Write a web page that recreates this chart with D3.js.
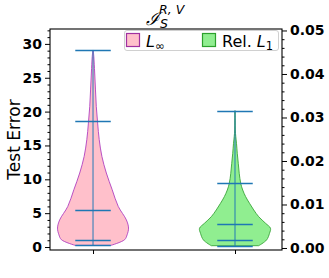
<!DOCTYPE html>
<html><head><meta charset="utf-8">
<script src="https://cdn.jsdelivr.net/npm/d3@7"></script>
<style>html,body{margin:0;padding:0;background:#fff;}svg{display:block;font-family:"DejaVu Sans",sans-serif;}</style>
</head><body><svg id="c" width="329" height="278"></svg>
<script>
const categories = ["L∞", "Rel. L1"];
const positions = [1, 2];
// Violin 1 (left axis): value grid and relative density
const v1Values = [0.24, 1.08, 1.8, 2.8, 4.0, 6.0, 8.46, 10.93, 13.38, 15.85, 18.3, 20.77, 23.2, 25.7, 28.15, 29.04];
const v1Density = [0.5, 0.89, 0.96, 1.0, 0.94, 0.71, 0.54, 0.375, 0.25, 0.175, 0.13, 0.092, 0.069, 0.047, 0.022, 0.006];
const v1Stats = [0.24, 1.03, 5.41, 18.66, 29.04];
// Violin 2 (right axis)
const v2Values = [0.00053, 0.00184, 0.00338, 0.00453, 0.00568, 0.0072, 0.00874, 0.01028, 0.0118, 0.01333, 0.01487, 0.01717, 0.01947, 0.02177, 0.02407, 0.02559, 0.02713, 0.0294, 0.03156];
const v2Density = [0.667, 0.889, 0.972, 1.0, 0.861, 0.667, 0.528, 0.408, 0.3, 0.217, 0.161, 0.119, 0.092, 0.064, 0.042, 0.022, 0.008, 0.003, 0.0014];
const v2Stats = [0.00053, 0.00184, 0.00544, 0.01494, 0.03156];
const leftTicks = [0, 5, 10, 15, 20, 25, 30];
const rightTicks = [0, 0.01, 0.02, 0.03, 0.04, 0.05];

const svg = d3.select("#c");
const L = 50, R = 282, T = 29, B = 250;
const x = d3.scaleLinear().domain([0.697, 2.331]).range([L, R]);
const yL = d3.scaleLinear().domain([-0.44, 32.2]).range([B, T]);
const yR = d3.scaleLinear().domain([-0.00046, 0.05034]).range([B, T]);
const halfW = 0.25;

function violin(pos, vals, dens, stats, ys, fill, edge) {
  const pts = vals.map((v, i) => ({v, d: dens[i]}));
  const area = d3.area()
    .y(d => ys(d.v))
    .x0(d => x(pos - halfW * d.d))
    .x1(d => x(pos + halfW * d.d))
    .curve(d3.curveCatmullRom);
  svg.append("path").attr("d", area(pts)).attr("fill", fill).attr("stroke", edge).attr("stroke-width", 0.9);
  const g = svg.append("g").attr("stroke", "#1f77b4").attr("stroke-width", 1.3);
  g.append("line").attr("x1", x(pos)).attr("x2", x(pos))
    .attr("y1", ys(d3.min(stats))).attr("y2", ys(d3.max(stats))).attr("stroke-opacity", 0.75);
  stats.forEach(s => {
    g.append("line").attr("x1", x(pos - halfW / 2)).attr("x2", x(pos + halfW / 2))
      .attr("y1", Math.round(ys(s)) + 0.5).attr("y2", Math.round(ys(s)) + 0.5);
  });
}
violin(positions[0], v1Values, v1Density, v1Stats, yL, "#ffc0cb", "#b040c0");
violin(positions[1], v2Values, v2Density, v2Stats, yR, "#90ee90", "#3aa53a");

// Axes
const axL = d3.axisLeft(yL).tickValues(leftTicks).tickSize(5).tickPadding(3).tickFormat(d3.format("d"));
svg.append("g").attr("transform", `translate(${L},0)`).call(axL);
const axLm = d3.axisLeft(yL).tickValues(d3.range(0, 33, 1).filter(v => v % 5)).tickSize(2.5).tickFormat("");
svg.append("g").attr("transform", `translate(${L},0)`).call(axLm);
const axR = d3.axisRight(yR).tickValues(rightTicks).tickSize(5).tickPadding(3).tickFormat(d3.format(".2f"));
svg.append("g").attr("transform", `translate(${R},0)`).call(axR);
const axRm = d3.axisRight(yR).tickValues(d3.range(0, 0.0502, 0.002).filter((v, i) => i % 5)).tickSize(2.5).tickFormat("");
svg.append("g").attr("transform", `translate(${R},0)`).call(axRm);
const axB = d3.axisBottom(x).tickValues(positions).tickSize(4).tickFormat("");
svg.append("g").attr("transform", `translate(0,${B})`).call(axB);
svg.selectAll(".domain").remove();
svg.selectAll(".tick line").attr("stroke", "#000").attr("stroke-width", 1);
svg.selectAll(".tick text").attr("font-family", "DejaVu Sans").attr("font-weight", "bold").attr("font-size", 14).attr("fill", "#000");
svg.append("rect").attr("x", L).attr("y", T).attr("width", R - L).attr("height", B - T)
  .attr("fill", "none").attr("stroke", "#000").attr("stroke-width", 1.1);

// Y label
svg.append("text").attr("transform", `translate(20,${(T + B) / 2}) rotate(-90)`)
  .attr("text-anchor", "middle").attr("font-size", 17).text("Test Error");

// Title
const tt = svg.append("text").attr("x", 146).attr("y", 25).attr("font-size", 18);
tt.append("tspan").attr("font-family", "DejaVu Serif").attr("font-style", "italic").text("ℐ");
tt.append("tspan").attr("font-size", 12.5).attr("font-style", "italic").attr("dy", 3).attr("x", 160).text("S");
tt.append("tspan").attr("font-size", 12.5).attr("font-style", "italic").attr("dy", -14).attr("x", 159).text("R, V");

// Legend
const lg = svg.append("g");
lg.append("rect").attr("x", 124.5).attr("y", 30.5).attr("width", 154).attr("height", 20).attr("rx", 2.5)
  .attr("fill", "#fff").attr("fill-opacity", 0.8).attr("stroke", "#d0d0d0");
const fills = ["#ffc0cb", "#90ee90"], edges = ["#a030a0", "#2ca02c"], lx = [126.5, 202.5];
categories.forEach((c, i) => {
  lg.append("rect").attr("x", lx[i]).attr("y", 33.5).attr("width", 13).attr("height", 13)
    .attr("fill", fills[i]).attr("stroke", edges[i]).attr("stroke-width", 1.2);
});
const t1 = lg.append("text").attr("x", 146).attr("y", 47).attr("font-size", 16);
t1.append("tspan").attr("font-style", "italic").text("L");
t1.append("tspan").attr("font-size", 11.5).attr("dy", 3).text("∞");
const t2 = lg.append("text").attr("x", 222).attr("y", 47).attr("font-size", 16);
t2.append("tspan").text("Rel. ");
t2.append("tspan").attr("font-style", "italic").text("L");
t2.append("tspan").attr("font-size", 11.5).attr("dy", 3).text("1");
</script></body></html>
